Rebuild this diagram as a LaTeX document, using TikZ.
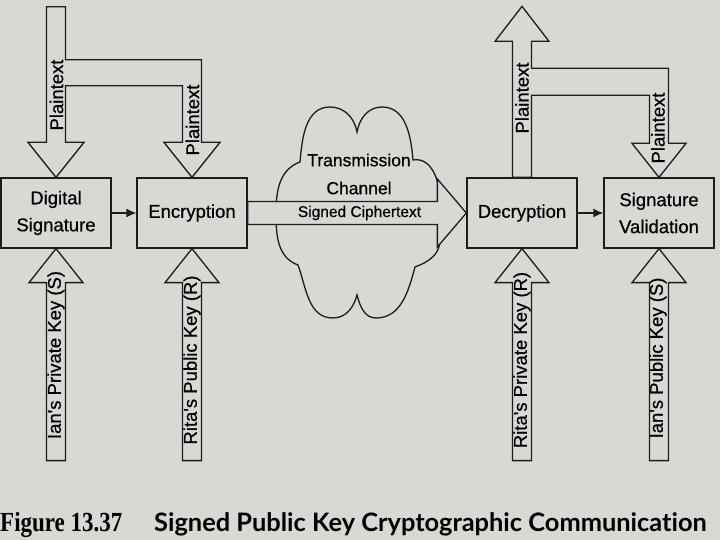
\documentclass[tikz,border=0pt]{standalone}
\usepackage{fontspec}
\usepackage{xcolor}
\usepackage{tikz}
\usetikzlibrary{arrows.meta, positioning, calc}
\newfontfamily\diagfont{Liberation Sans}[FakeBold=0.6]
\newfontfamily\capserif{Liberation Serif}
\newfontfamily\capsans{Lato}[Ligatures=NoCommon]
\definecolor{mypage}{RGB}{216,216,213}
\definecolor{myink}{RGB}{28,28,28}
\tikzset{
  block/.style={rectangle, draw=myink, fill=mypage,
    minimum width=110pt, minimum height=70pt, align=center,
    inner sep=0pt, line width=1.3pt,
    font=\diagfont\fontsize{18.5}{27}\selectfont},
  barrow/.style={draw=myink, fill=mypage, line width=1.3pt, line join=miter},
  arrow/.style={-{Latex[length=10pt,width=9pt]}, line width=1.3pt, color=myink},
  vlabel/.style={rotate=90, inner sep=0pt,
    font=\diagfont\fontsize{18.5}{22}\selectfont}
}

\begin{document}
\begin{tikzpicture}[x=1pt, y=1pt,
  cloudline/.style={draw=myink, line width=1.3pt},
  chantext/.style={align=center, inner sep=0pt,
    font=\diagfont\fontsize{17.5}{28}\selectfont}]

  \useasboundingbox (0,0) rectangle (720,540);
  \fill[mypage] (0,0) rectangle (720,540);

  % Boxes
  \node[block] (dsig) at (56,327) {Digital\\Signature};
  \node[block, right=24.7pt of dsig] (enc) {Encryption};
  \node[block, right=218.7pt of enc] (dec) {Decryption};
  \node[block, right=25.7pt of dec] (sval) {Signature\\Validation};

  % Free ends
  \coordinate[above=170.5pt of dsig.north] (ptin);
  \coordinate[above=171pt of dec.north] (ptout);
  \coordinate[below=212pt of dsig.south] (ianpriv);
  \coordinate[below=212pt of enc.south] (ritapub);
  \coordinate[below=212pt of dec.south] (ritapriv);
  \coordinate[below=212pt of sval.south] (ianpub);

  % Channel
  \draw[cloudline] (300,378) to[out=85,in=180] (330,433)
    to[out=0,in=100] (357,408) to[out=80,in=180] (382,433)
    to[out=0,in=95] (413,380) to[out=10,in=90] (440,340) -- (440,300)
    to[out=270,in=20] (415,273) to[out=255,in=0] (376,222)
    to[out=180,in=285] (357,245) to[out=255,in=0] (333,222)
    to[out=180,in=290] (298,275) to[out=160,in=270] (276,327)
    to[out=90,in=200] (300,378) -- cycle;
  \node[chantext] (chan) at (359,366) {Transmission\\Channel};

  % Signed ciphertext
  \draw[barrow] ($(enc.east)+(0,11.5)$) -| ($(dec.west)+(-29,34)$) -- (dec.west)
    -- ++(-29,-34) |- ($(enc.east)+(0,-11.5)$) -- cycle;
  \node[font=\diagfont\fontsize{15.5}{18}\selectfont, inner sep=0pt] (sct) at (359.5,327) {Signed Ciphertext};

  % Plaintext in
  \draw[barrow] (dsig.north) -- ++(-28,35) -- ++(18.5,0) |- (ptin) -- ++(9.5,0)
    -- ++(0,-53) -| ($(enc.north)+(9.5,35)$) -- ++(18.5,0) -- (enc.north)
    -- ++(-28,35) -- ++(18.5,0) |- ($(ptin)+(9.5,-79)$)
    |- ($(dsig.north)+(28,35)$) -- cycle;
  \node[vlabel] (pt1) at (56.5,445) {Plaintext};
  \node[vlabel] (pt2) at (192.5,420) {Plaintext};

  % Plaintext out
  \draw[barrow] (dec.north) -- ++(-9.5,0) -- ++(0,136) -- ++(-17.5,0) -- (ptout)
    -- ++(27,-35) -- ++(-17.5,0) -- ++(0,-27) -| ($(sval.north)+(9.5,34)$)
    -- ++(17.5,0) -- (sval.north) -- ++(-27,34) -- ++(17.5,0)
    |- ($(ptout)+(9.5,-89)$) -- ($(dec.north)+(9.5,0)$) -- cycle;
  \node[vlabel] (pt3) at (522,442) {Plaintext};
  \node[vlabel] (pt4) at (658,412) {Plaintext};

  % Keys
  \draw[barrow] (dsig.south) -- ++(27,-34) -- ++(-17.5,0) |- (ianpriv) -- ++(-9.5,0) -- ++(0,178) -- ++(-17.5,0) -- cycle;
  \draw[barrow] (enc.south) -- ++(27,-34) -- ++(-17.5,0) |- (ritapub) -- ++(-9.5,0) -- ++(0,178) -- ++(-17.5,0) -- cycle;
  \draw[barrow] (dec.south) -- ++(27,-34) -- ++(-17.5,0) |- (ritapriv) -- ++(-9.5,0) -- ++(0,178) -- ++(-17.5,0) -- cycle;
  \draw[barrow] (sval.south) -- ++(27,-34) -- ++(-17.5,0) |- (ianpub) -- ++(-9.5,0) -- ++(0,178) -- ++(-17.5,0) -- cycle;
  \node[vlabel] (kianpriv) at (56,185) {Ian's Private Key (S)};
  \node[vlabel] (kritapub) at (192,180) {Rita's Public Key (R)};
  \node[vlabel] (kritapriv) at (522,180) {Rita's Private Key (R)};
  \node[vlabel] (kianpub) at (658,182) {Ian's Public Key (S)};

  % Steps
  \draw[arrow] (dsig) -- (enc);
  \draw[arrow] (dec) -- (sval);

  % Caption
  \node[anchor=base west, inner sep=0pt, font=\capserif\bfseries\fontsize{23}{23}\selectfont] (fignum) at (0,8) {\scalebox{1}[1.2]{Figure 13.37}};
  \node[anchor=base west, inner sep=0pt, font=\capsans\bfseries\fontsize{25.4}{26}\selectfont] (figtitle) at (154,8) {Signed Public Key Cryptographic Communication};
\end{tikzpicture}
\end{document}
